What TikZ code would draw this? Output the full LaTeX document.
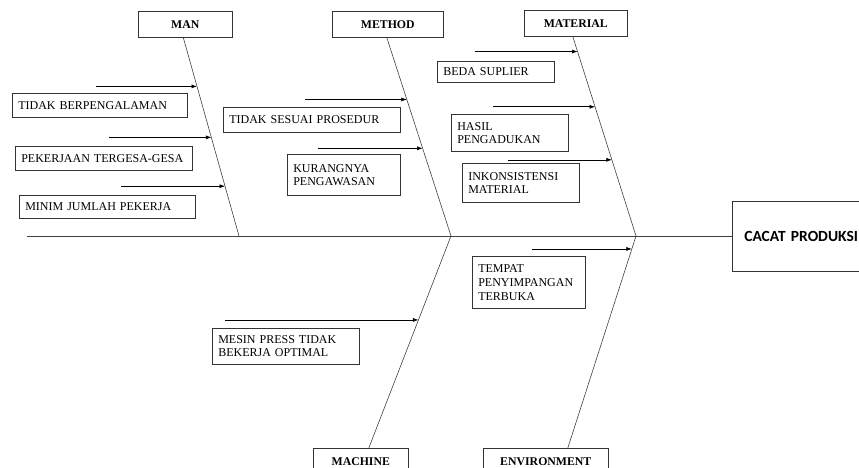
\documentclass[tikz,border=0pt]{standalone}
\usepackage{fontspec}
\setmainfont{Liberation Serif}
\newfontfamily\effectfont{Carlito}
\usepackage{tikz}
\usetikzlibrary{arrows.meta,positioning,calc}

\begin{document}
\begin{tikzpicture}[
    x=1pt, y=-1pt,
    line width=0.6pt,
    head/.style={rectangle, draw=black!80, line width=0.6pt, minimum height=26pt, inner sep=0pt, anchor=north west, font=\fontsize{11.8}{12}\selectfont\bfseries},
    cause/.style={rectangle, draw=black!80, line width=0.6pt, anchor=north west, align=left, inner xsep=6pt, inner ysep=0pt, font=\fontsize{12}{12.8}\selectfont},
    effect/.style={rectangle, draw=black!80, line width=0.6pt, anchor=west, minimum height=70pt, inner xsep=12pt, text width=150pt, align=left, font=\effectfont\fontsize{15.5}{16}\selectfont\bfseries},
    bone/.style={draw=black!75, line width=0.6pt},
    arrow/.style={-{Latex[length=5.5pt,width=4pt]}, black, line width=0.6pt}
]
    \useasboundingbox (0,0) rectangle (859,468);
    \clip (0,0) rectangle (859,468);

    % Spine
    \coordinate (tail) at (27,236);
    \coordinate (j1) at (239,236);
    \coordinate (j2) at (451,236);
    \coordinate (j3) at (636,236);
    \node[effect] (cacat) at (732,236) {CACAT PRODUKSI};
    \draw[bone] (tail) -- (cacat.west);

    % Heads
    \node[head, minimum width=94pt] (man) at (138,11) {MAN};
    \node[head, minimum width=111pt] (method) at (332,11) {METHOD};
    \node[head, minimum width=103pt] (material) at (524,10) {MATERIAL};
    \node[head, minimum width=95pt] (machine) at (313,448) {MACHINE};
    \node[head, minimum width=125pt] (env) at (483,448) {ENVIRONMENT};

    % Bones
    \coordinate (manb) at ($(man.south)+(-2,0)$);
    \coordinate (methodb) at ($(method.south)+(-1,0)$);
    \coordinate (materialb) at ($(material.south)+(-3,0)$);
    \coordinate (machineb) at ($(machine.north)+(8,0)$);
    \coordinate (envb) at ($(env.north)+(22,0)$);
    \draw[bone] (manb) -- (j1);
    \draw[bone] (methodb) -- (j2);
    \draw[bone] (materialb) -- (j3);
    \draw[bone] (machineb) -- (j2);
    \draw[bone] (envb) -- (j3);

    % Man causes
    \node[cause, minimum height=24pt, text width=163pt] (c1) at (12,93) {TIDAK BERPENGALAMAN};
    \node[cause, minimum height=24pt, text width=165pt] (c2) at (15,146) {PEKERJAAN TERGESA-GESA};
    \node[cause, minimum height=23pt, text width=164pt] (c3) at (19,195) {MINIM JUMLAH PEKERJA};
    \coordinate (t1) at ($(manb)!0.246!(j1)$);
    \coordinate (t2) at ($(manb)!0.503!(j1)$);
    \coordinate (t3) at ($(manb)!0.749!(j1)$);
    \draw[arrow] ($(t1)+(-101,0)$) -- (t1);
    \draw[arrow] ($(t2)+(-102,0)$) -- (t2);
    \draw[arrow] ($(t3)+(-104,0)$) -- (t3);

    % Method causes
    \node[cause, minimum height=25pt, text width=165pt] (c4) at (223,107) {TIDAK SESUAI PROSEDUR};
    \node[cause, minimum height=41pt, text width=101pt] (c5) at (287,154) {KURANGNYA\\PENGAWASAN};
    \coordinate (t4) at ($(methodb)!0.312!(j2)$);
    \coordinate (t5) at ($(methodb)!0.558!(j2)$);
    \draw[arrow] ($(t4)+(-102,0)$) -- (t4);
    \draw[arrow] ($(t5)+(-105,0)$) -- (t5);

    % Material causes
    \node[cause, minimum height=21pt, text width=105pt] (c6) at (437,61) {BEDA SUPLIER};
    \node[cause, minimum height=37pt, text width=105pt] (c7) at (451,114) {HASIL\\PENGADUKAN};
    \node[cause, minimum height=39pt, text width=105pt] (c8) at (462,163) {INKONSISTENSI\\MATERIAL};
    \coordinate (t6) at ($(materialb)!0.075!(j3)$);
    \coordinate (t7) at ($(materialb)!0.352!(j3)$);
    \coordinate (t8) at ($(materialb)!0.618!(j3)$);
    \draw[arrow] ($(t6)+(-103,0)$) -- (t6);
    \draw[arrow] ($(t7)+(-102,0)$) -- (t7);
    \draw[arrow] ($(t8)+(-104,0)$) -- (t8);

    % Machine cause
    \node[cause, minimum height=36pt, text width=135pt] (c9) at (212,328) {MESIN PRESS TIDAK\\BEKERJA OPTIMAL};
    \coordinate (t9) at ($(machineb)!0.604!(j2)$);
    \draw[arrow] ($(t9)+(-193,0)$) -- (t9);

    % Environment cause
    \node[cause, minimum height=52pt, text width=101pt, font=\fontsize{12}{14}\selectfont] (c10) at (472,256) {TEMPAT\\PENYIMPANGAN\\TERBUKA};
    \coordinate (t10) at ($(envb)!0.939!(j3)$);
    \draw[arrow] ($(t10)+(-100,0)$) -- (t10);
\end{tikzpicture}
\end{document}
